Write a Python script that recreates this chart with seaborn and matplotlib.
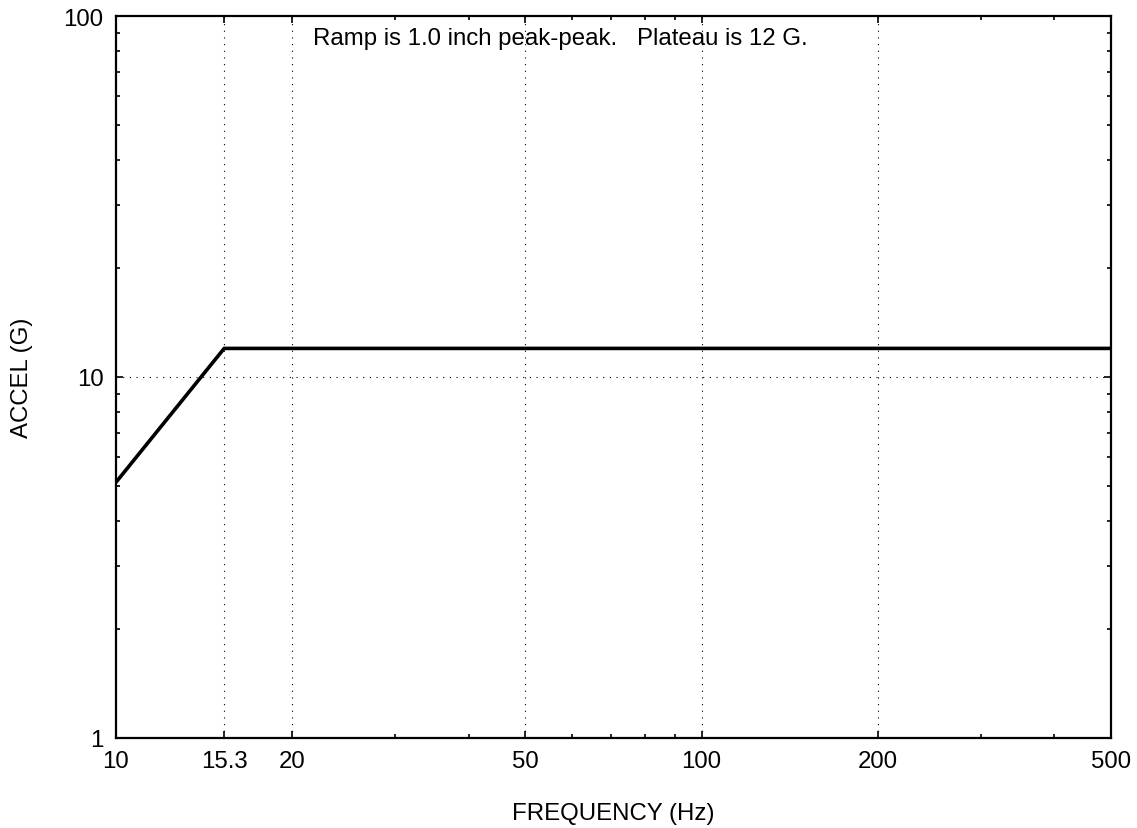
import numpy as np
import pandas as pd
import matplotlib
matplotlib.use("Agg")
import matplotlib.pyplot as plt
import matplotlib.ticker as mticker
import seaborn as sns

# Data: ramp then plateau
freq_hz = [10, 15.3, 500]
accel_g = [5.11, 12.0, 12.0]

xtick_vals = [10, 15.3, 20, 50, 100, 200, 500]
xtick_labels = ["10", "15.3", "20", "50", "100", "200", "500"]
ytick_vals = [1, 10, 100]
ytick_labels = ["1", "10", "100"]
xgrid_vals = [15.3, 20, 50, 100, 200]
ygrid_vals = [10]
note = "Ramp is 1.0 inch peak-peak.   Plateau is 12 G."

sns.set_style("white")
plt.rcParams["font.family"] = ["Liberation Sans", "DejaVu Sans"]
plt.rcParams["text.color"] = "black"
plt.rcParams["axes.labelcolor"] = "black"
plt.rcParams["xtick.color"] = "black"
plt.rcParams["ytick.color"] = "black"

df = pd.DataFrame({"freq": freq_hz, "accel": accel_g})

fig = plt.figure(figsize=(11.37, 8.29), dpi=100)
ax = fig.add_axes([116 / 1137, 1 - 739 / 829, (1111 - 116) / 1137, (739 - 17) / 829])

sns.lineplot(data=df, x="freq", y="accel", ax=ax, color="black", linewidth=2.6, sort=False)

ax.set_xscale("log")
ax.set_yscale("log")
ax.set_xlim(10, 500)
ax.set_ylim(1, 100)

# ticks
ax.xaxis.set_major_locator(mticker.FixedLocator(xtick_vals))
ax.xaxis.set_major_formatter(mticker.FixedFormatter(xtick_labels))
ax.xaxis.set_minor_locator(mticker.FixedLocator([30, 40, 60, 70, 80, 90, 300, 400]))
ax.xaxis.set_minor_formatter(mticker.NullFormatter())
ax.yaxis.set_major_locator(mticker.FixedLocator(ytick_vals))
ax.yaxis.set_major_formatter(mticker.FixedFormatter(ytick_labels))
ax.yaxis.set_minor_locator(mticker.LogLocator(base=10, subs=np.arange(2, 10)))
ax.yaxis.set_minor_formatter(mticker.NullFormatter())

ax.tick_params(which="both", direction="in", top=True, right=True,
               bottom=True, left=True, color="black", labelcolor="black", width=1.2)
ax.tick_params(which="major", length=5, labelsize=17.3, pad=9)
ax.tick_params(which="minor", length=3)

# dotted grid
for xv in xgrid_vals:
    ax.axvline(xv, color="black", linestyle=(0, (1, 5)), linewidth=0.8, zorder=0)
for yv in ygrid_vals:
    ax.axhline(yv, color="black", linestyle=(0, (1, 5)), linewidth=0.8, zorder=0)

for sp in ax.spines.values():
    sp.set_color("black")
    sp.set_linewidth(1.6)

ax.set_xlabel("FREQUENCY (Hz)", fontsize=17.3, labelpad=21, color="black")
ax.set_ylabel("ACCEL (G)", fontsize=17.3, labelpad=22, color="black")

ax.text(0.198, 0.985, note, transform=ax.transAxes, ha="left", va="top",
        fontsize=17.3, color="black")

fig.savefig("out.png", dpi=100)
